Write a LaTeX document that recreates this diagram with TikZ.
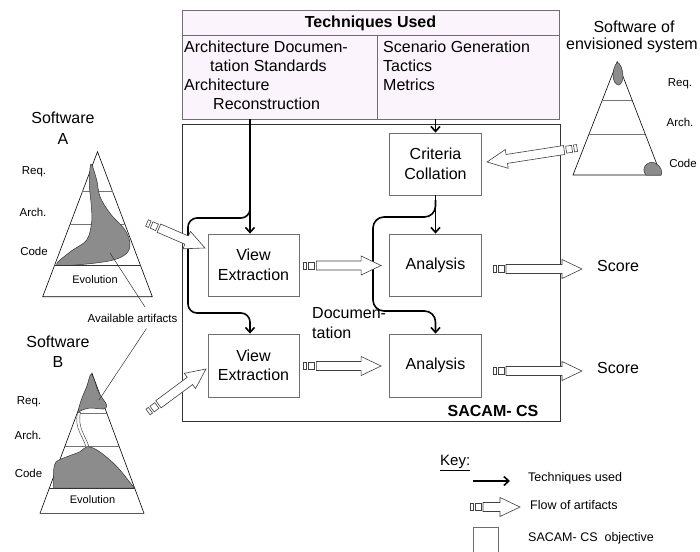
\documentclass[tikz,border=0pt]{standalone}
\usepackage{fontspec}
\setmainfont{Liberation Sans}
\usetikzlibrary{arrows.meta,calc}
\definecolor{lav}{RGB}{252,244,252}
\definecolor{boxline}{RGB}{110,110,110}
\definecolor{shadecol}{RGB}{140,140,140}
\tikzset{
 box/.style={draw=boxline, line width=0.8pt, minimum width=92pt, minimum height=62pt, align=center, font=\fontsize{16}{19.5}\selectfont, inner sep=0pt},
 txt/.style={font=\fontsize{16}{18.5}\selectfont, inner sep=0pt},
 small/.style={font=\fontsize{11.5}{13}\selectfont, inner sep=0pt},
 keytxt/.style={font=\fontsize{12.5}{14}\selectfont, inner sep=0pt, anchor=mid west},
 tech/.style={line width=1.6pt, -{Straight Barb[length=5pt,width=9pt,line width=1.6pt]}, rounded corners=9pt},
 flowline/.style={draw=black!75, line width=0.6pt},
 pyr/.style={draw=black, line width=0.6pt},
 pyrin/.style={draw=black!55, line width=0.8pt},
 shadefill/.style={fill=shadecol, draw=black!80, line width=0.5pt},
}
\newcommand\flowarrow[2]{%
  \path let \p1=($(#2)-(#1)$) in \pgfextra{\pgfmathsetmacro\fa{atan2(\y1,\x1)}\pgfmathsetmacro\fl{veclen(\x1,\y1)}\global\let\flang\fa\global\let\fllen\fl};
  \begin{scope}[shift={(#1)},rotate=\flang,x=1pt,y=1pt]
   \draw[flowline,fill=white] (0,-3.5) rectangle (3,3.5);
   \draw[flowline,fill=white] (5,-3.5) rectangle (11,3.5);
   \draw[flowline,fill=white] (13,-4.5) -- ({\fllen-20},-4.5) -- ({\fllen-20},-9.5) -- (\fllen,0) -- ({\fllen-20},9.5) -- ({\fllen-20},4.5) -- (13,4.5) -- cycle;
  \end{scope}}
\begin{document}
\begin{tikzpicture}[x=1pt,y=-1pt]
\useasboundingbox[fill=white] (0,0) rectangle (700,551);

% Techniques Used box
\node[draw=boxline, fill=lav, line width=0.8pt, minimum width=377pt, minimum height=109pt, anchor=north west, inner sep=0pt] (tech) at (182,10) {};
\draw[boxline, line width=0.8pt] (182,35) -- (559,35);
\draw[boxline, line width=0.8pt] (377,35) -- (377,119);
\node[txt, font=\fontsize{16}{18.5}\selectfont\bfseries] (techt) at (370.5,23) {Techniques Used};
\node[txt, anchor=mid west] (l1) at (184,50) {Architecture Documen-};
\node[txt, anchor=mid west] (l2) at (210,69) {tation Standards};
\node[txt, anchor=mid west] (l3) at (184,88) {Architecture};
\node[txt, anchor=mid west] (l4) at (213,107) {Reconstruction};
\node[txt, anchor=mid west] (r1) at (383,50) {Scenario Generation};
\node[txt, anchor=mid west] (r2) at (383,69) {Tactics};
\node[txt, anchor=mid west] (r3) at (383,88) {Metrics};

% SACAM box
\node[draw=black!80, line width=0.7pt, minimum width=378pt, minimum height=297pt, anchor=north west, inner sep=0pt] (sacam) at (182,124) {};
\node[txt, font=\fontsize{16}{18.5}\selectfont\bfseries] (sacamt) at (493,411) {SACAM- CS};

% inner boxes
\node[box] (cc) at (435.5,164) {Criteria\\Collation};
\node[box, minimum width=91pt] (ve1) at (253.5,265) {View\\Extraction};
\node[box] (a1) at (435.5,265) {Analysis};
\node[box, minimum width=91pt, minimum height=63pt] (ve2) at (253.5,365.5) {View\\Extraction};
\node[box, minimum height=63pt] (a2) at (435.5,365.5) {Analysis};

\node[txt, anchor=mid west] (doc1) at (312,316) {Documen-};
\node[txt, anchor=mid west] (doc2) at (312,336) {tation};

% techniques used connectors
\coordinate (tL) at (250,119);
\coordinate (tR) at (435.5,119);
\draw[tech] (tL) -- (ve1.north -| tL);
\draw[tech] (250,200) -- (250,218) -- (188,218) -- (188,313) -- (250,313) -- (ve2.north -| tL);
\draw[tech] (tR) -- (cc.north);
\draw[tech] (cc.south) -- (a1.north);
\draw[tech, rounded corners=11pt] (435.5,200) -- (435.5,217) -- (373,217) -- (373,311) -- (435.5,311) -- (a2.north);

% flow arrows
\coordinate (f1s) at ($(ve1.east)+(4,0.5)$);
\coordinate (f1e) at ($(a1.west)+(-8,0.5)$);
\coordinate (f2s) at ($(ve2.east)+(4,0.5)$);
\coordinate (f2e) at ($(a2.west)+(-8,0.5)$);
\coordinate (s1s) at (493,269);
\coordinate (s1e) at (582,269);
\coordinate (s2s) at (493,371);
\coordinate (s2e) at (582,371);
\coordinate (fAs) at (147,223);
\coordinate (fAe) at (205,248);
\coordinate (fBs) at (148,412);
\coordinate (fBe) at (206,369);
\coordinate (fCs) at (577,148);
\coordinate (fCe) at (487,162);
\flowarrow{f1s}{f1e}
\flowarrow{f2s}{f2e}
\flowarrow{s1s}{s1e}
\flowarrow{s2s}{s2e}
\flowarrow{fAs}{fAe}
\flowarrow{fBs}{fBe}
\flowarrow{fCs}{fCe}
\node[txt, anchor=mid west] (sc1) at (597,269) {Score};
\node[txt, anchor=mid west] (sc2) at (597,371) {Score};

% Software A pyramid
\node[txt] (swA) at (63,118) {Software};
\node[txt] (swAl) at (63,139) {A};
\draw[pyr] (97.5,151.7) -- (152.3,296.7) -- (42.7,296.7) -- cycle;
\draw[pyrin] (82.4,191.7) -- (112.8,191.7);
\draw[pyrin] (70.2,224) -- (124.8,224);
\draw[shadefill] plot[smooth cycle, tension=0.55] coordinates {(91,164) (96.7,180) (100,196.7) (110,213.3) (125,230) (130,243.3) (126.7,253.3) (113.3,260) (86.7,264) (57,265) (70,252) (86.7,240) (91.7,222) (91.2,205) (89.3,183.3)};
\draw[black!80, line width=1pt] (54.4,265.7) -- (140.6,265.7);
\node[small] (rqA) at (34,172) {Req.};
\node[small] (arA) at (33,212) {Arch.};
\node[small] (coA) at (34,251) {Code};
\node[small, font=\fontsize{11}{13}\selectfont] (evA) at (95,280) {Evolution};

% Software B pyramid
\node[txt] (swB) at (58,341.7) {Software};
\node[txt] (swBl) at (58,361.7) {B};
\draw[pyr] (92,373.3) -- (144,513.3) -- (40,513.3) -- cycle;
\draw[pyrin] (77.1,413.3) -- (106.9,413.3);
\draw[pyrin] (64.7,446.7) -- (119.3,446.7);
\draw[shadefill] plot[smooth cycle, tension=0.5] coordinates {(91.5,374) (98.3,391.7) (106.7,405) (103.3,409) (90,408) (80,411) (77.5,414) (81.2,400) (86.7,386.7)};
\draw[draw=black!70, fill=white, line width=0.5pt] (77.5,413) .. controls (74,428) and (83,436) .. (86,447) -- (89,447) .. controls (86,436) and (77,428) .. (80.5,412) -- cycle;
\draw[shadefill] plot[smooth, tension=0.6] coordinates {(134.5,488) (128,480) (120,470) (110,460) (97,450) (87,446.7) (80,451.7) (67,456.7) (56,462) (53.5,472)} -- (53.5,488) -- cycle;
\draw[black!80, line width=1pt] (49.3,488.3) -- (134.7,488.3);
\node[small] (rqB) at (29,401.7) {Req.};
\node[small] (arB) at (28,435) {Arch.};
\node[small] (coB) at (28.5,473.3) {Code};
\node[small, font=\fontsize{11}{13}\selectfont] (evB) at (92.5,500) {Evolution};

% available artifacts
\node[small] (avail) at (132.5,318) {Available artifacts};
\coordinate (avA) at (110,253);
\coordinate (avB) at (99,400);
\draw[black!80, line width=0.5pt] (145,307) -- (avA);
\draw[black!80, line width=0.5pt] (146.5,328.5) -- (avB);

% envisioned system pyramid
\node[txt] (swE1) at (634,27) {Software of};
\node[txt] (swE2) at (632,45) {envisioned system};
\draw[pyr] (617.3,61.7) -- (661,175) -- (573,175) -- cycle;
\draw[pyrin] (602.4,100) -- (632.2,100);
\draw[pyrin] (589.2,134) -- (645.4,134);
\draw[shadefill] (617.3,62) .. controls (624,66) and (625,84) .. (618.5,85) .. controls (612,84) and (611,70) .. cycle;
\draw[shadefill] (646,175) .. controls (640,168) and (648,160) .. (655,163) .. controls (661,166) and (663,172) .. (661,175) -- cycle;
\node[small] (rqE) at (680,84) {Req.};
\node[small] (arE) at (680,122) {Arch.};
\node[small] (coE) at (683,163) {Code};

% key
\node[txt, font=\fontsize{15}{17}\selectfont, anchor=mid west] (key) at (440,463) {\underline{Key:}};
\coordinate (k1s) at (473,481);
\coordinate (k1e) at (510,481);
\draw[tech] (k1s) -- (k1e);
\node[keytxt] (kt1) at (528,479) {Techniques used};
\coordinate (k2s) at (470,507);
\coordinate (k2e) at (520,507);
\flowarrow{k2s}{k2e}
\node[keytxt] (kt2) at (530,507) {Flow of artifacts};
\node[draw=boxline, line width=0.8pt, minimum width=25pt, minimum height=26pt, anchor=north west, inner sep=0pt] (kbox) at (473,527) {};
\node[keytxt] (kt3) at (528,539) {SACAM- CS\ \ objective};
\end{tikzpicture}
\end{document}
